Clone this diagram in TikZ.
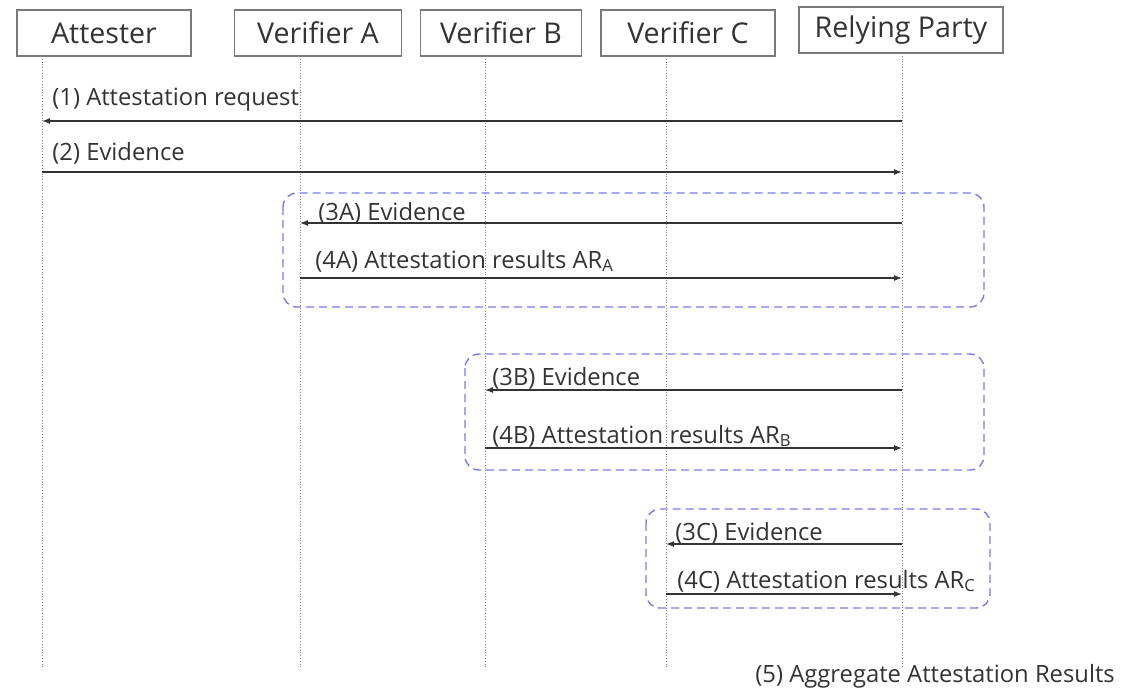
\documentclass[tikz,border=0pt]{standalone}
\usepackage{fontspec}
\setmainfont{Open Sans}
\usetikzlibrary{arrows.meta}
\definecolor{txtgray}{HTML}{333333}
\definecolor{boxgray}{HTML}{7A7A7A}
\definecolor{grpblue}{HTML}{7B7BE6}
\tikzset{
actor/.style={shape=rectangle, draw=boxgray, line width=0.6pt, minimum height=23pt, inner sep=0, font=\fontsize{14.3}{16}\selectfont, text=txtgray}, lifeline/.style={draw=gray, densely dotted, line width=0.4pt}, msg/.style={draw=txtgray, line width=0.6pt, -{Latex[length=4pt, width=3pt]}}, msglabel/.style={anchor=base west, inner sep=0, font=\fontsize{11.9}{14}\selectfont, text=txtgray}, group/.style={draw=grpblue, line width=0.7pt, dash pattern=on 4pt off 2.5pt, rounded corners=7pt}}
\begin{document}
\begin{tikzpicture}[x=0.5pt, y=-0.5pt]
\useasboundingbox (0,0) rectangle (1144,687);
\node [actor, minimum width=87pt] (att) at (104,33) {Attester};
\node [actor, minimum width=83.5pt] (va) at (318,33) {Verifier A};
\node [actor, minimum width=80.5pt] (vb) at (501,33) {Verifier B};
\node [actor, minimum width=87pt] (vc) at (688,33) {Verifier C};
\node [actor, minimum width=102pt] (rp) at (901,30) {Relying Party};
\coordinate (att top) at (42,56);
\coordinate (va top) at (300,56);
\coordinate (vb top) at (485,56);
\coordinate (vc top) at (666,56);
\coordinate (rp top) at (902,53);
\coordinate (att bot) at (42,668);
\coordinate (va bot) at (300,668);
\coordinate (vb bot) at (485,668);
\coordinate (vc bot) at (666,668);
\coordinate (rp bot) at (902,668);
\draw [lifeline] (att top) -- (att bot);
\draw [lifeline] (va top) -- (va bot);
\draw [lifeline] (vb top) -- (vb bot);
\draw [lifeline] (vc top) -- (vc bot);
\draw [lifeline] (rp top) -- (rp bot);
\draw [group] (283,193) rectangle (984,307);
\draw [group] (465,354) rectangle (984,470);
\draw [group] (646,509) rectangle (990,608);
\coordinate (m1) at (0,121);
\coordinate (m2) at (0,172);
\coordinate (m3a) at (0,223);
\coordinate (m4a) at (0,278);
\coordinate (m3b) at (0,390);
\coordinate (m4b) at (0,448);
\coordinate (m3c) at (0,544);
\coordinate (m4c) at (0,594);
\draw [msg] (rp top |- m1) -- (att top |- m1);
\draw [msg] (att top |- m2) -- (rp top |- m2);
\draw [msg] (rp top |- m3a) -- (va top |- m3a);
\draw [msg] (va top |- m4a) -- (rp top |- m4a);
\draw [msg] (rp top |- m3b) -- (vb top |- m3b);
\draw [msg] (vb top |- m4b) -- (rp top |- m4b);
\draw [msg] (rp top |- m3c) -- (vc top |- m3c);
\draw [msg] (vc top |- m4c) -- (rp top |- m4c);
\node [msglabel] (l1) at (52,105) {(1) Attestation request};
\node [msglabel] (l2) at (52,160) {(2) Evidence};
\node [msglabel] (l3a) at (318,220) {(3A) Evidence};
\node [msglabel] (l4a) at (315,268) {(4A) Attestation results AR\textsubscript{A}};
\node [msglabel] (l3b) at (492,385) {(3B) Evidence};
\node [msglabel] (l4b) at (492,443) {(4B) Attestation results AR\textsubscript{B}};
\node [msglabel] (l3c) at (675,540) {(3C) Evidence};
\node [msglabel] (l4c) at (677,588) {(4C) Attestation results AR\textsubscript{C}};
\node [msglabel] (l5) at (755,682) {(5) Aggregate Attestation Results};
\end{tikzpicture}
\end{document}
